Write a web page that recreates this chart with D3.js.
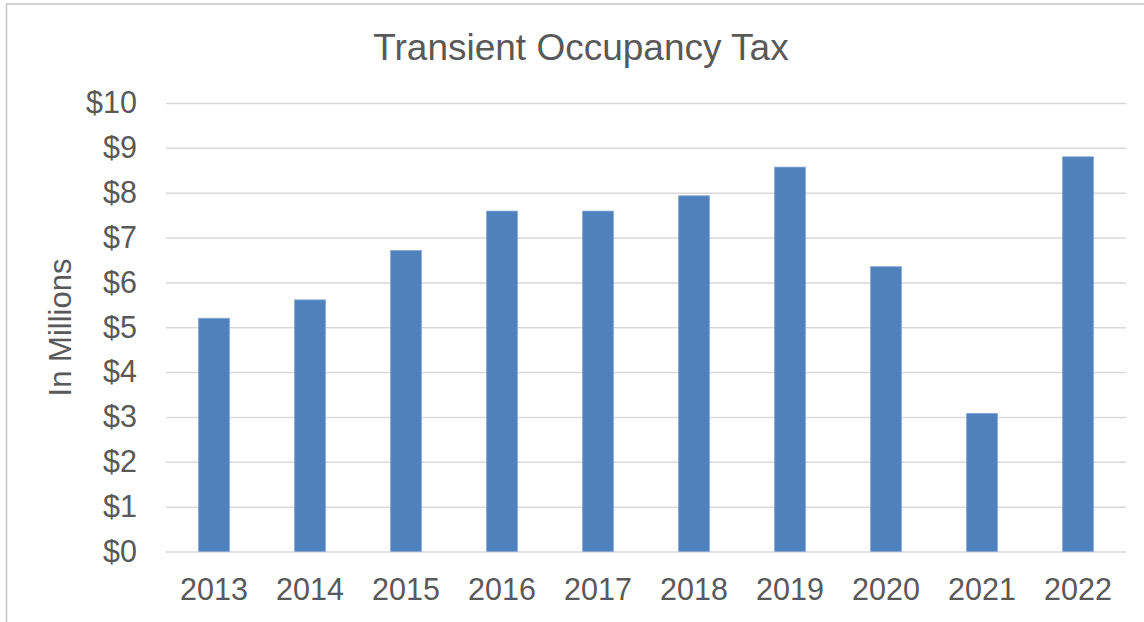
<!DOCTYPE html>
<html>
<head>
<meta charset="utf-8">
<script src="https://cdn.jsdelivr.net/npm/d3@7"></script>
<style>
  body { margin: 0; background: #fff; }
  text { font-family: "Liberation Sans", Arial, sans-serif; fill: #595959; }
</style>
</head>
<body>
<div id="chart"></div>
<script>
var width = 1144,
    height = 622;

var years = ["2013", "2014", "2015", "2016", "2017", "2018", "2019", "2020", "2021", "2022"];
var taxMillions = [5.2, 5.61, 6.71, 7.59, 7.59, 7.93, 8.57, 6.35, 3.08, 8.8];
var yTicks = [0, 1, 2, 3, 4, 5, 6, 7, 8, 9, 10];

var svg = d3.select("#chart").append("svg")
    .attr("width", width)
    .attr("height", height);

// frame (only left and top edges show in the picture)
svg.append("rect")
    .attr("x", 6.5).attr("y", 4)
    .attr("width", width + 20).attr("height", height + 20)
    .attr("fill", "none")
    .attr("stroke", "#c4c4c4")
    .attr("stroke-width", 1.5);

var x = d3.scaleBand()
    .domain(years)
    .range([166, 1126])
    .paddingInner(0.68)
    .paddingOuter(0.34);

var y = d3.scaleLinear()
    .domain([0, 10])
    .range([551.5, 103]);

// gridlines + y labels
var yAxis = svg.append("g")
    .attr("transform", "translate(166,0)")
    .call(d3.axisLeft(y)
        .tickValues(yTicks)
        .tickSize(-960)
        .tickPadding(29)
        .tickFormat(function(d) { return "$" + d; }));
yAxis.select(".domain").remove();
yAxis.selectAll("line").attr("stroke", "#d9d9d9").attr("stroke-width", 1.5);
yAxis.selectAll("text")
    .style("font-size", "30.5px")
    .style("font-family", "'Liberation Sans', Arial, sans-serif")
    .attr("fill", "#595959");

// bars
svg.append("g")
    .selectAll("rect")
    .data(years)
    .enter().append("rect")
    .attr("x", function(d) { return x(d); })
    .attr("y", function(d, i) { return y(taxMillions[i]); })
    .attr("width", x.bandwidth())
    .attr("height", function(d, i) { return y(0) - y(taxMillions[i]); })
    .attr("fill", "#4f81bd")
    .attr("stroke", "#7fa3d3")
    .attr("stroke-width", 0.8);

// x labels
var xAxis = svg.append("g")
    .attr("transform", "translate(0," + y(0) + ")")
    .call(d3.axisBottom(x).tickSize(0).tickPadding(26.5));
xAxis.select(".domain").remove();
xAxis.selectAll("text")
    .style("font-size", "30.5px")
    .style("font-family", "'Liberation Sans', Arial, sans-serif")
    .attr("fill", "#595959");

// title
svg.append("text")
    .attr("x", 581)
    .attr("y", 60)
    .attr("text-anchor", "middle")
    .style("font-size", "37px")
    .text("Transient Occupancy Tax");

// y axis title
svg.append("text")
    .attr("transform", "translate(71,327.5) rotate(-90)")
    .attr("text-anchor", "middle")
    .style("font-size", "31px")
    .text("In Millions");
</script>
</body>
</html>
